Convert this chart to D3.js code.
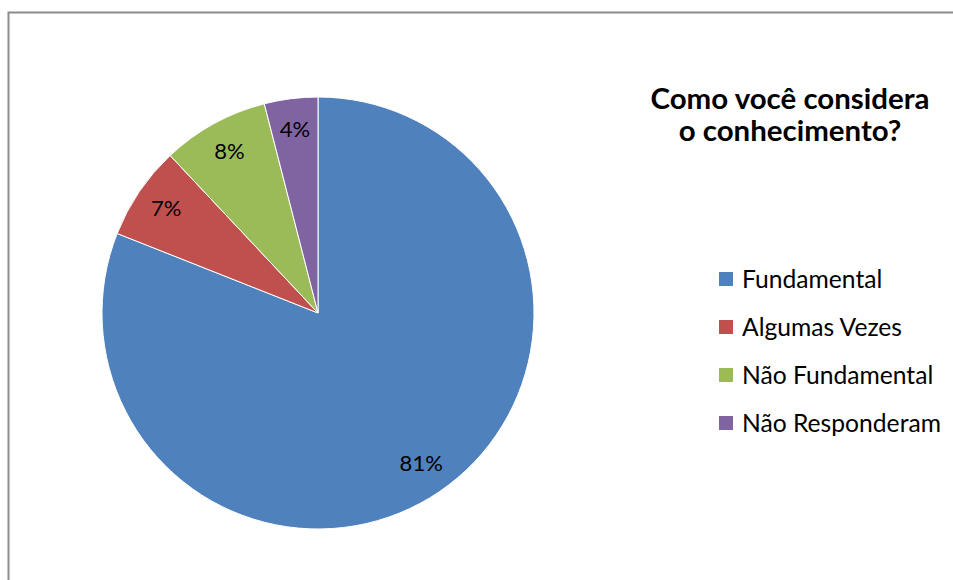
<!DOCTYPE html>
<html><head><meta charset="utf-8">
<script src="https://cdn.jsdelivr.net/npm/d3@7"></script>
<style>body{margin:0;background:#fff}svg{display:block}</style>
</head><body>
<script>
const categories = ["Fundamental", "Algumas Vezes", "Não Fundamental", "Não Responderam"];
const values = [81, 7, 8, 4];
const labels = ["81%", "7%", "8%", "4%"];
const colors = ["#4F81BD", "#C0504D", "#9BBB59", "#8064A2"];
const titleLines = ["Como você considera", "o conhecimento?"];

const W = 953, H = 580;
const svg = d3.select("body").append("svg").attr("width", W).attr("height", H);
const font = "Lato, 'Open Sans', sans-serif";

// frame
svg.append("path").attr("d", `M8.5,${H} V12.5 H${W}`).attr("fill","none")
  .attr("stroke","#8c8c8c").attr("stroke-width",2);

const cx = 318, cy = 313, r = 216;
const pie = d3.pie().sort(null).value(d => d)(values);
const arc = d3.arc().innerRadius(0).outerRadius(r);
const labelArc = d3.arc().innerRadius(r*0.85).outerRadius(r*0.85);
const g = svg.append("g").attr("transform", `translate(${cx},${cy})`);
g.selectAll("path").data(pie).join("path")
  .attr("d", arc).attr("fill", (d,i) => colors[i])
  .attr("stroke", "#fff").attr("stroke-width", 1);
g.selectAll("text").data(pie).join("text")
  .attr("transform", d => `translate(${labelArc.centroid(d)})`)
  .attr("text-anchor","middle").attr("dy","0.3em")
  .style("font-family", font).style("font-size","22px").attr("fill","#000")
  .text((d,i) => labels[i]);

// title
const title = svg.append("g");
titleLines.forEach((t,i) => {
  title.append("text").attr("x", 790).attr("y", 109 + i*32)
    .attr("text-anchor","middle").style("font-family", font)
    .style("font-weight","bold").style("font-size","25px").text(t);
});
const t0 = title.select("text").node();
const w0 = t0.getComputedTextLength();
const fs = 25 * 279 / w0;
title.selectAll("text").style("font-size", fs + "px");

// legend
const leg = svg.append("g");
categories.forEach((c,i) => {
  const y = 279 + i*48;
  leg.append("rect").attr("x",719).attr("y",y-7).attr("width",14).attr("height",14).attr("fill",colors[i]);
  leg.append("text").attr("x",742).attr("y",y).attr("dy","0.35em")
    .style("font-family",font).style("font-size","21px").text(c);
});
const lt = leg.selectAll("text").nodes()[3];
const lw = lt.getComputedTextLength();
leg.selectAll("text").style("font-size", (21*199/lw) + "px");
</script>
</body></html>
